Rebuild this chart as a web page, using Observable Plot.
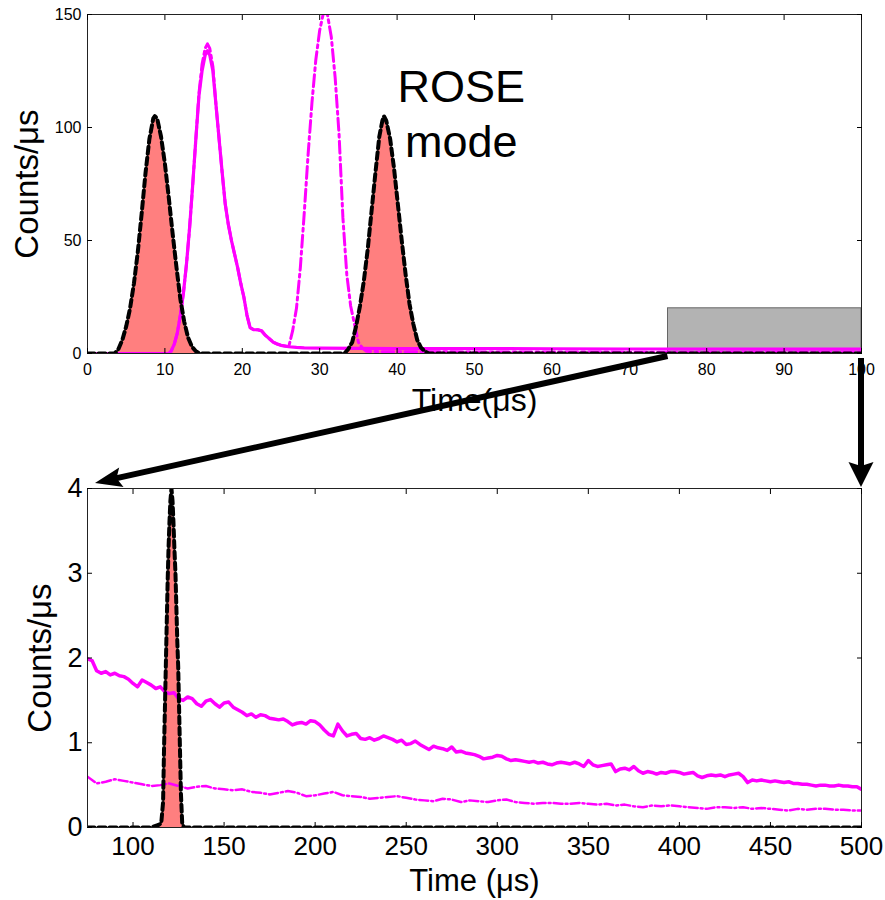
<!DOCTYPE html>
<html><head><meta charset="utf-8">
<script src="https://cdn.jsdelivr.net/npm/d3@7"></script>
<script src="https://cdn.jsdelivr.net/npm/@observablehq/plot@0.6"></script>
<style>
html,body{margin:0;padding:0;background:#fff;}
#wrap{position:relative;width:885px;height:900px;font-family:"Liberation Sans",Arial,sans-serif;}
#wrap > svg{display:block;}
#overlay{position:absolute;left:0;top:0;pointer-events:none;}
</style></head><body><div id="wrap"></div>
<script>
const FONT = '"Liberation Sans", Arial, sans-serif';
const MAGENTA = "#ff00ff", SALMON = "#ff7f7f";

// ---------- Top panel (0–100 µs) ----------
const topPulseT = [0, 3.5, 4, 4.5, 5, 5.5, 6, 6.5, 7, 7.5, 8, 8.5, 8.7, 9, 9.5, 10, 10.5, 11, 11.5, 12, 12.5, 13, 13.5, 14, 14.5,
  33.2, 33.7, 34.2, 34.7, 35.2, 35.7, 36.2, 36.7, 37.2, 37.7, 38.1, 38.3, 38.6, 39.1, 39.6, 40.1, 40.6, 41.1, 41.6, 42.1, 42.6, 43.1, 43.6, 44.1, 100];
const topPulseV = [0, 0, 2, 6, 12, 20, 31, 45, 62, 80, 95, 104, 105, 104, 96, 84, 69, 53, 38, 24, 14, 7, 3, 1, 0,
  0, 2, 5, 12, 21, 32, 46, 63, 80, 96, 103, 105, 103, 95, 82, 66, 50, 35, 22, 13, 6, 2.5, 1, 0, 0];

const topSolidT = [0, 10.5, 10.8, 11.2, 11.6, 12.0, 12.4, 12.8, 13.2, 13.6, 14.0, 14.4, 14.8, 15.2, 15.5, 15.8, 16.2, 16.6, 17.0, 17.4, 17.8,
  18.2, 18.6, 19.0, 19.4, 19.8, 20.2, 20.6, 21.0, 21.5, 22.0, 22.5, 23.0, 23.5, 24.0, 24.5, 25.0, 26.0, 27.0, 28.0, 30.0, 35, 40, 50, 60, 70, 80, 90, 100];
const topSolidV = [0, 0, 1, 4, 9, 17, 27, 40, 56, 75, 95, 114, 125, 132, 134, 132, 125, 110, 95, 80, 66,
  57, 50, 44, 38, 31, 25, 17, 11.5, 10.5, 10.5, 10, 8, 6.5, 5, 4.2, 3.6, 3, 2.7, 2.5, 2.4, 2.3, 2.2, 2.2, 2.1, 2.0, 2.0, 1.9, 1.9];

const topDashT = [0, 10.5, 10.8, 11.2, 11.6, 12.0, 12.4, 12.8, 13.2, 13.6, 14.0, 14.4, 14.8, 15.2, 15.5, 15.8, 16.2, 16.6, 17.0, 17.4, 17.8,
  18.2, 18.6, 19.0, 19.4, 19.8, 20.2, 20.6, 21.0, 21.5, 22.0, 22.5, 23.0, 23.5, 24.0, 24.5, 25.0, 26.0, 26.5, 27.0, 27.5, 28.0, 28.5, 29.0,
  29.5, 30.0, 30.5, 31.0, 31.5, 32.0, 32.5, 33.0, 33.5, 34.0, 34.5, 35.0, 35.5, 36, 38, 40, 50, 60, 70, 80, 90, 100];
const topDashV = [0, 0, 1, 4, 9, 17, 27, 40, 56, 75, 95, 115, 128, 135, 137, 135, 127, 110, 95, 80, 66,
  57, 50, 44, 38, 31, 25, 17, 11.5, 10.5, 10.5, 10, 8, 6.5, 5, 4.2, 3.6, 3, 10, 20, 38, 62, 88, 111,
  130, 143, 151, 150, 140, 122, 97, 60, 35, 21, 13, 5, 2.5, 1, 0.8, 0.8, 0.7, 0.7, 0.6, 0.6, 0.55, 0.5];

const zoomBoxX = [75, 100], zoomBoxY = [0, 20];
const topXTicks = [0, 10, 20, 30, 40, 50, 60, 70, 80, 90, 100];
const topYTicks = [0, 50, 100, 150];
const annoText = ["ROSE", "mode"], annoX = [48.3, 48.3], annoY = [117.5, 93.2];

// ---------- Bottom panel (75–500 µs) ----------
const botPulseT = [75, 110, 114, 115.5, 116.5, 117, 117.5, 118, 118.5, 119, 119.5, 120, 120.5, 121.1, 121.7, 122.2, 122.7, 123.3, 123.8,
  124.3, 124.8, 125.3, 125.8, 126.3, 127, 128, 500];
const botPulseV = [0, 0, 0.03, 0.05, 0.3, 0.9, 1.4, 1.9, 2.4, 2.9, 3.3, 3.6, 3.85, 4.0, 3.85, 3.6, 3.3, 3.0, 2.6,
  2.2, 1.9, 1.4, 0.9, 0.4, 0.05, 0, 0];

const botSolidStart = 75, botSolidStep = 2.5;
const botSolidV = [1.99, 1.97, 1.85, 1.82, 1.84, 1.80, 1.82, 1.79, 1.78, 1.75, 1.70, 1.66, 1.74, 1.71, 1.68, 1.64, 1.66, 1.60, 1.58, 1.59,
  1.52, 1.50, 1.54, 1.52, 1.46, 1.43, 1.49, 1.51, 1.46, 1.42, 1.47, 1.48, 1.42, 1.39, 1.36, 1.32, 1.34, 1.30, 1.33, 1.32,
  1.29, 1.28, 1.27, 1.28, 1.25, 1.21, 1.23, 1.24, 1.22, 1.26, 1.25, 1.21, 1.15, 1.10, 1.08, 1.22, 1.14, 1.08, 1.10, 1.11,
  1.05, 1.04, 1.06, 1.03, 1.05, 1.08, 1.06, 1.04, 1.01, 1.03, 0.98, 0.99, 1.02, 0.98, 0.95, 0.92, 0.96, 0.94, 0.93, 0.91,
  0.95, 0.89, 0.90, 0.88, 0.87, 0.86, 0.84, 0.81, 0.82, 0.83, 0.85, 0.84, 0.81, 0.79, 0.80, 0.79, 0.78, 0.77, 0.78, 0.76,
  0.77, 0.75, 0.74, 0.76, 0.77, 0.76, 0.75, 0.77, 0.75, 0.72, 0.79, 0.74, 0.72, 0.73, 0.74, 0.75, 0.66, 0.69, 0.70, 0.68,
  0.72, 0.67, 0.64, 0.66, 0.65, 0.63, 0.65, 0.64, 0.66, 0.66, 0.65, 0.63, 0.64, 0.65, 0.61, 0.59, 0.61, 0.62, 0.61, 0.62,
  0.60, 0.62, 0.63, 0.64, 0.60, 0.53, 0.56, 0.55, 0.56, 0.55, 0.54, 0.55, 0.54, 0.53, 0.54, 0.52, 0.52, 0.51, 0.51, 0.50,
  0.49, 0.50, 0.50, 0.49, 0.49, 0.50, 0.49, 0.49, 0.48, 0.48, 0.45];

const botDashStart = 75, botDashStep = 5;
const botDashV = [0.60, 0.52, 0.54, 0.57, 0.55, 0.53, 0.51, 0.49, 0.50, 0.52, 0.49, 0.46, 0.48, 0.49, 0.46, 0.45, 0.44, 0.45, 0.42, 0.41,
  0.39, 0.41, 0.43, 0.41, 0.37, 0.38, 0.40, 0.42, 0.38, 0.37, 0.36, 0.34, 0.35, 0.36, 0.37, 0.35, 0.33, 0.32, 0.31, 0.34,
  0.33, 0.30, 0.32, 0.31, 0.30, 0.32, 0.33, 0.30, 0.29, 0.28, 0.29, 0.29, 0.28, 0.28, 0.29, 0.28, 0.27, 0.28, 0.26, 0.27,
  0.25, 0.24, 0.26, 0.25, 0.26, 0.25, 0.24, 0.23, 0.22, 0.24, 0.24, 0.23, 0.24, 0.22, 0.23, 0.22, 0.21, 0.20, 0.22, 0.21,
  0.22, 0.22, 0.21, 0.21, 0.20, 0.20];

const botXTicks = [100, 150, 200, 250, 300, 350, 400, 450, 500];
const botYTicks = [0, 1, 2, 3, 4];

// zoom arrows: from top-panel point to bottom-panel point
const arrowFrom = [[75, 0], [100, 0]];
const arrowTo = [[75, 4], [500, 4]];

// ---------- build ----------
const zip = (T, V) => T.map((t, i) => ({t, v: V[i]}));
const seq = (start, step, V) => V.map((v, i) => ({t: start + i * step, v}));

const pulseTop = zip(topPulseT, topPulseV);
const solidTop = zip(topSolidT, topSolidV);
const dashTop = zip(topDashT, topDashV);
const box = [{x1: zoomBoxX[0], x2: zoomBoxX[1], y1: zoomBoxY[0], y2: zoomBoxY[1]}];
const anno = annoText.map((s, i) => ({s, x: annoX[i], y: annoY[i]}));

const pulseBot = zip(botPulseT, botPulseV);
const solidBot = seq(botSolidStart, botSolidStep, botSolidV);
const dashBot = seq(botDashStart, botDashStep, botDashV);

const intFmt = d => String(d);

const topPlot = Plot.plot({
  width: 885, height: 420,
  marginLeft: 87, marginRight: 24, marginTop: 14, marginBottom: 67,
  x: {domain: [0, 100]}, y: {domain: [0, 150]},
  style: {fontFamily: FONT, background: "white", color: "black", overflow: "visible"},
  marks: [
    Plot.rect(box, {x1: "x1", x2: "x2", y1: "y1", y2: "y2", fill: "#b3b3b3", stroke: "#666", strokeWidth: 1}),
    Plot.areaY(pulseTop, {x: "t", y: "v", fill: SALMON, clip: true}),
    Plot.line(dashTop, {x: "t", y: "v", stroke: MAGENTA, strokeWidth: 3, strokeDasharray: "12,4,3,4", clip: true}),
    Plot.line(solidTop, {x: "t", y: "v", stroke: MAGENTA, strokeWidth: 3.2, clip: true}),
    Plot.line(pulseTop, {x: "t", y: "v", stroke: "black", strokeWidth: 4, strokeDasharray: "7,4", clip: true}),
    Plot.frame({stroke: "#222"}),
    Plot.axisX(topXTicks, {anchor: "bottom", tickSize: -5, tickPadding: 15, fontSize: 16, tickFormat: intFmt, label: null}),
    Plot.axisX(topXTicks, {anchor: "top", tickSize: -5, tickFormat: () => "", label: null}),
    Plot.axisY(topYTicks, {anchor: "left", tickSize: -5, tickPadding: 11, fontSize: 16, tickFormat: intFmt, label: null}),
    Plot.axisY(topYTicks, {anchor: "right", tickSize: -5, tickFormat: () => "", label: null}),
    Plot.text(anno, {x: "x", y: "y", text: "s", fontSize: 45, lineAnchor: "middle"}),
    Plot.text(["Time(μs)"], {text: d => d, frameAnchor: "bottom", textAnchor: "middle", lineAnchor: "bottom", dy: 57, fontSize: 32}),
    Plot.text(["Counts/μs"], {text: d => d, frameAnchor: "left", textAnchor: "middle", lineAnchor: "bottom", rotate: -90, dx: -50, fontSize: 33})
  ]
});

const botPlot = Plot.plot({
  width: 885, height: 480,
  marginLeft: 87, marginRight: 24, marginTop: 68, marginBottom: 73,
  x: {domain: [75, 500]}, y: {domain: [0, 4]},
  style: {fontFamily: FONT, background: "white", color: "black", overflow: "visible"},
  marks: [
    Plot.areaY(pulseBot, {x: "t", y: "v", fill: SALMON, clip: true}),
    Plot.line(dashBot, {x: "t", y: "v", stroke: MAGENTA, strokeWidth: 2.5, strokeDasharray: "9,3,2,3", clip: true}),
    Plot.line(solidBot, {x: "t", y: "v", stroke: MAGENTA, strokeWidth: 3.5, clip: true}),
    Plot.line(pulseBot, {x: "t", y: "v", stroke: "black", strokeWidth: 4, strokeDasharray: "7,4", clip: true}),
    Plot.frame({stroke: "#222"}),
    Plot.axisX(botXTicks, {anchor: "bottom", tickSize: -5, tickPadding: 14, fontSize: 26, tickFormat: intFmt, label: null}),
    Plot.axisX(botXTicks, {anchor: "top", tickSize: -5, tickFormat: () => "", label: null}),
    Plot.axisY(botYTicks, {anchor: "left", tickSize: -5, tickPadding: 10, fontSize: 27, tickFormat: intFmt, label: null}),
    Plot.axisY(botYTicks, {anchor: "right", tickSize: -5, tickFormat: () => "", label: null}),
    Plot.text(["Time (μs)"], {text: d => d, frameAnchor: "bottom", textAnchor: "middle", lineAnchor: "bottom", dy: 63, fontSize: 31}),
    Plot.text(["Counts/μs"], {text: d => d, frameAnchor: "left", textAnchor: "middle", lineAnchor: "bottom", rotate: -90, dx: -37, fontSize: 33})
  ]
});

const wrap = document.getElementById("wrap");
wrap.append(topPlot, botPlot);

// ---------- connecting arrows, positioned from the plots' own scales ----------
const wrapBox = wrap.getBoundingClientRect();
const topOff = topPlot.getBoundingClientRect().top - wrapBox.top;
const botOff = botPlot.getBoundingClientRect().top - wrapBox.top;
const xT = topPlot.scale("x"), yT = topPlot.scale("y");
const xB = botPlot.scale("x"), yB = botPlot.scale("y");

const svg = d3.select(wrap).append("svg").attr("id", "overlay").attr("width", 885).attr("height", 900);

function arrow(x0, y0, x1, y1, headLen, headHalf, notch, w) {
  const dx = x1 - x0, dy = y1 - y0, L = Math.hypot(dx, dy), ux = dx / L, uy = dy / L;
  const bx = x1 - ux * headLen, by = y1 - uy * headLen;
  svg.append("line").attr("x1", x0).attr("y1", y0).attr("x2", bx + ux * (notch + 2)).attr("y2", by + uy * (notch + 2))
    .attr("stroke", "black").attr("stroke-width", w);
  const pts = [[x1, y1], [bx - uy * headHalf, by + ux * headHalf], [bx + ux * notch, by + uy * notch], [bx + uy * headHalf, by - ux * headHalf]];
  svg.append("polygon").attr("points", pts.map(p => p.join(",")).join(" ")).attr("fill", "black");
}

// diagonal arrow (zoom box corner -> top-left of lower panel)
arrow(xT.apply(arrowFrom[0][0]), yT.apply(arrowFrom[0][1]) + topOff + 3,
      xB.apply(arrowTo[0][0]) + 8, yB.apply(arrowTo[0][1]) + botOff - 5, 27, 10, 5, 6);
// vertical arrow (right edge)
arrow(xT.apply(arrowFrom[1][0]), yT.apply(arrowFrom[1][1]) + topOff + 5,
      xB.apply(arrowTo[1][0]), yB.apply(arrowTo[1][1]) + botOff - 1, 25, 12.5, 4, 6);
</script></body></html>
